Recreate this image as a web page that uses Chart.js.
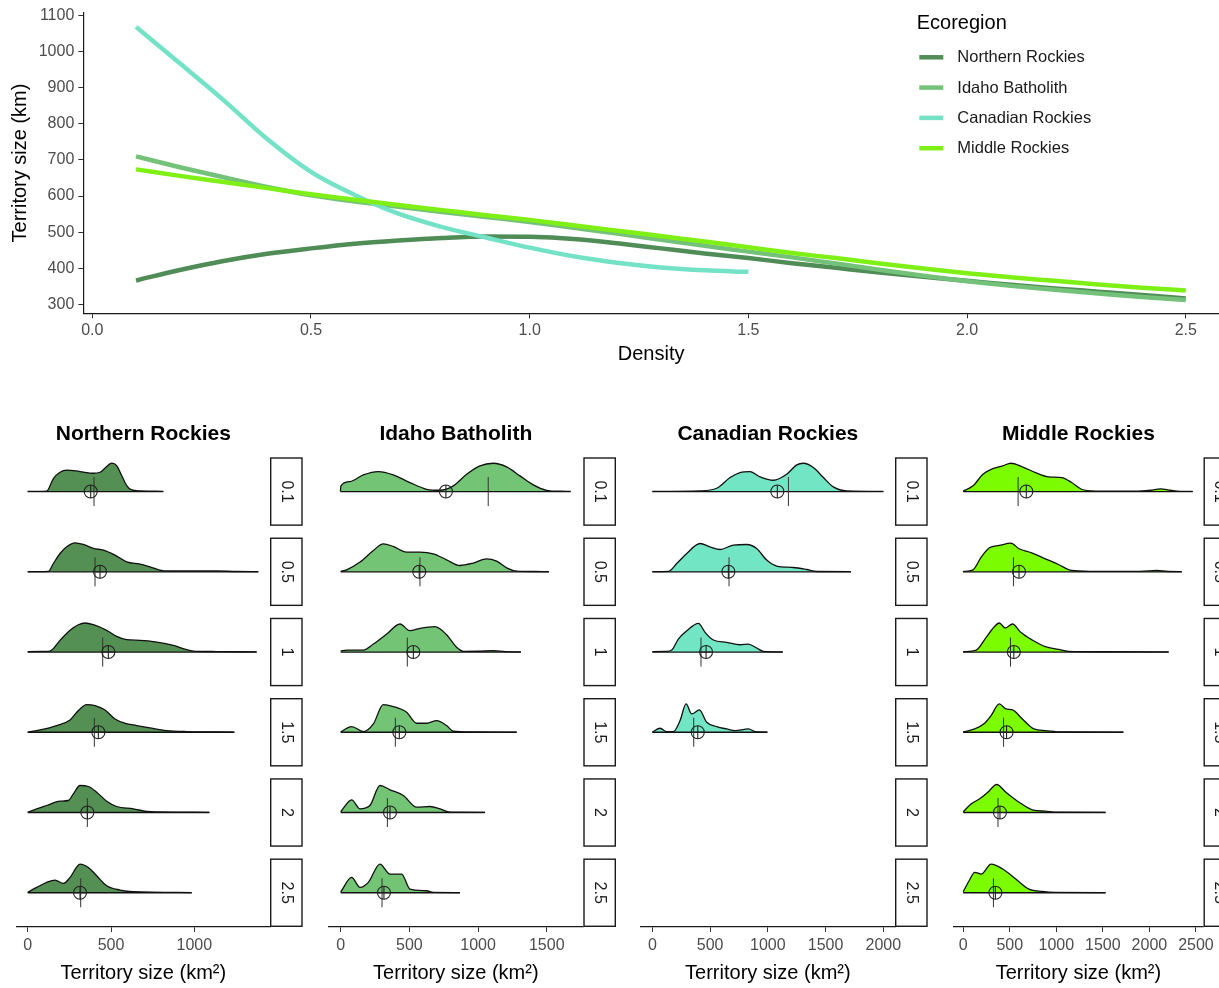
<!DOCTYPE html>
<html><head><meta charset="utf-8">
<script src="https://cdn.jsdelivr.net/npm/chart.js@4.4.1/dist/chart.umd.min.js"></script>
<style>
html,body{margin:0;padding:0;background:#fff;overflow:hidden;width:1219px;height:988px}
canvas{position:absolute}
</style></head><body>
<canvas id="topChart" style="left:0;top:0;width:1219px;height:370px" width="1219" height="370"></canvas>
<canvas id="p0" style="left:0;top:410px;width:312px;height:578px" width="312" height="578"></canvas>
<canvas id="p1" style="left:312px;top:410px;width:312px;height:578px" width="312" height="578"></canvas>
<canvas id="p2" style="left:624px;top:410px;width:312px;height:578px" width="312" height="578"></canvas>
<canvas id="p3" style="left:936px;top:410px;width:283px;height:578px" width="283" height="578"></canvas>
<script>
// ---------------- DATA ----------------
const ecoregions = ['Northern Rockies', 'Idaho Batholith', 'Canadian Rockies', 'Middle Rockies'];
const densityLevels = ['0.1', '0.5', '1', '1.5', '2', '2.5'];

// Top panel: fitted territory size vs density
const densityGrid = [0.1,0.2,0.3,0.4,0.5,0.6,0.7,0.8,0.9,1.0,1.1,1.2,1.3,1.4,1.5,1.6,1.7,1.8,1.9,2.0,2.1,2.2,2.3,2.4,2.5];
const sizeNorthernRockies = [366,395,420,440,455,468,477,484,488,487,481,469,455,441,428,414,401,388,376,365,354,344,335,326,316];
const sizeIdahoBatholith  = [710,680,652,625,602,585,570,556,542,528,512,496,479,462,446,430,413,396,379,364,351,340,330,320,312];
const sizeCanadianRockies = [1069,968,866,758,667,603,551,514,485,457,433,415,402,394,390];
const sizeMiddleRockies   = [674,656,639,622,605,590,575,561,547,534,519,504,489,474,458,442,428,413,399,386,375,365,355,346,338];
const topXTicks = [0.0, 0.5, 1.0, 1.5, 2.0, 2.5];
const topYTicks = [300, 400, 500, 600, 700, 800, 900, 1000, 1100];

// Ridge densities: [territory size km2, scaled density height]
const nr01 = [[0,0.2],[114,0.5],[154,13],[194,19.3],[234,21.5],[314,20],[394,18.3],[434,19.3],[474,25],[504,28.5],[534,26],[564,16],[594,6],[624,1.7],[674,0.7],[814,0.2]];
const nr05 = [[0,0.2],[124,0.5],[154,8.3],[194,18.3],[234,25],[284,29],[334,27.3],[394,23.3],[454,21.7],[524,16.7],[594,10],[674,7.7],[734,5],[814,1],[954,0.8],[1134,0.8],[1250,0.3],[1384,0.2]];
const nr10 = [[0,0.4],[100,0.6],[134,1],[194,11.7],[254,21.7],[304,27.3],[344,29],[394,27.3],[474,21.7],[534,15.7],[594,12.3],[674,11.7],[774,10],[874,6.7],[954,2.3],[994,1],[1134,0.5],[1374,0.2]];
const nr15 = [[0,0.2],[74,2.3],[174,6.7],[254,12.3],[304,21.7],[354,27.7],[404,26.7],[464,22.3],[524,13.3],[584,9],[654,6.7],[734,4.3],[834,1.7],[954,0.7],[1240,0.2]];
const nr20 = [[0,0.3],[54,3.7],[114,7],[194,11.3],[244,12],[274,18.7],[314,27],[364,26],[414,20.3],[474,11.3],[534,6],[634,3.7],[714,1],[794,0.5],[1090,0.2]];
const nr25 = [[0,0.5],[54,5.3],[114,10.3],[164,12.7],[214,9.3],[254,15.3],[314,28.7],[364,25.3],[414,17],[474,7],[554,2.7],[634,1],[984,0.2]];
const meanNR   = [378, 434, 484, 424, 358, 314];
const medianNR = [398, 404, 450, 400, 358, 318];

const ib01 = [[-2,0.3],[2,5.7],[68,10],[165,16.7],[274,20],[383,16.7],[504,9],[626,2.3],[723,1.3],[820,5.7],[917,17.3],[1014,25.7],[1111,28.3],[1208,24.7],[1305,15.7],[1402,6.7],[1499,1.3],[1596,0.3],[1674,0.2]];
const ib05 = [[0,0.3],[44,2],[141,9.7],[238,21.3],[310,28],[383,25.3],[480,19.7],[577,19.7],[674,18],[771,12],[868,6.3],[965,8.7],[1062,13],[1135,10.7],[1208,4],[1281,0.7],[1400,0.3],[1516,0.2]];
const ib10 = [[0,1],[44,2],[165,2],[238,8],[335,18],[432,28],[504,21.3],[577,23.7],[686,25.3],[771,17.3],[844,4.7],[893,0.7],[1000,0.8],[1111,1.3],[1200,0.4],[1312,0.2]];
const ib15 = [[0,0.3],[80,5.7],[165,0.7],[238,8.3],[310,27.7],[383,25.7],[480,20],[553,9],[626,9],[699,11.7],[771,6.7],[820,1],[950,0.3],[1281,0.2]];
const ib20 = [[0,0.7],[80,12.7],[141,3.7],[213,7],[286,27],[359,22.7],[456,17],[553,5.3],[650,6],[723,3.7],[796,0.3],[1050,0.2]];
const ib25 = [[0,0.7],[80,15.3],[141,5.3],[201,10.3],[286,28.7],[359,18.7],[444,18.7],[504,3.7],[626,2],[674,0.3],[868,0.2]];
const meanIB   = [766, 572, 529, 427, 359, 315];
const medianIB = [1074, 577, 485, 398, 340, 301];

const cr01 = [[0,0.2],[413,0.7],[557,3.3],[673,14],[759,19],[846,20],[932,14.7],[1048,11.3],[1163,17.3],[1250,26.7],[1308,28.3],[1394,24],[1481,14],[1567,4.7],[1683,0.7],[2000,0.2]];
const cr05 = [[0,0.2],[139,0.5],[211,8.3],[298,18.3],[413,28.3],[499,25],[586,22.3],[701,26.7],[817,27.3],[903,23.3],[990,11.7],[1077,5.7],[1221,4.3],[1336,2.3],[1423,0.3],[1720,0.2]];
const cr10 = [[0,0.5],[120,0.6],[168,2],[225,13],[298,21.3],[399,28.7],[456,19.7],[528,12],[644,9.7],[759,7.3],[831,8],[904,4],[961,0.7],[1129,0.2]];
const cr15 = [[0,0.2],[67,4],[124,0.7],[182,0.7],[240,11.7],[292,28.3],[341,18.3],[407,22.3],[471,10],[557,5.7],[644,3.3],[716,1.7],[831,3.3],[903,0.3],[996,0.2]];
const meanCR   = [1082, 658, 465, 393];
const medianCR = [1178, 664, 421, 358];

const mr01 = [[0,0.5],[106,5.7],[212,17.3],[318,23],[424,25.7],[512,28.3],[636,24.7],[777,19],[918,14.7],[1059,14],[1165,9],[1271,2.3],[1377,0.7],[1600,0.3],[1850,0.3],[2013,1.3],[2119,2.7],[2225,1.3],[2330,0.2],[2465,0.2]];
const mr05 = [[0,0.3],[106,2],[194,14.7],[282,24],[388,26.3],[512,28.7],[600,23],[742,18.7],[883,13],[1024,7.3],[1165,1.3],[1377,0.5],[1900,0.4],[2083,1.3],[2200,0.3],[2348,0.2]];
const mr10 = [[0,0.3],[141,2],[247,14.7],[335,25.3],[388,29],[452,24],[530,28],[618,19.7],[742,12],[883,5.3],[1024,2.7],[1130,0.7],[1500,0.3],[2207,0.2]];
const mr15 = [[0,0.3],[124,3.3],[230,9],[300,16.7],[388,28.3],[459,23.3],[530,22.3],[636,13.3],[759,3.3],[883,1.7],[1059,0.3],[1720,0.2]];
const mr20 = [[0,0.7],[88,8.7],[177,13.7],[265,20.3],[360,28],[459,20.3],[600,10.3],[742,2.7],[883,1.3],[1024,0.3],[1529,0.2]];
const mr25 = [[0,1],[64,12],[124,20.3],[194,18.7],[300,28.7],[424,23.7],[565,13.7],[706,3.7],[847,1.3],[989,0.3],[1529,0.2]];
const meanMR   = [678, 600, 544, 466, 395, 346];
const medianMR = [590, 540, 508, 434, 374, 325];

const ticksNR = [0, 500, 1000];
const ticksIB = [0, 500, 1000, 1500];
const ticksCR = [0, 500, 1000, 1500, 2000];
const ticksMR = [0, 500, 1000, 1500, 2000, 2500];

// ---------------- STYLE / LAYOUT ----------------
const FONT = '"Liberation Sans", Arial, Helvetica, sans-serif';
Chart.defaults.font.family = FONT;
const lineColors = ['#4f8c56', '#74c279', '#74e2c6', '#7ef015'];
const fillColors = ['#548f54', '#74c476', '#72e6c4', '#7cfc00'];

const panels = [
  {ridges:[nr01,nr05,nr10,nr15,nr20,nr25], mean:meanNR, median:medianNR, ticks:ticksNR, min:-66, max:1454, padL:16.7, padR:42},
  {ridges:[ib01,ib05,ib10,ib15,ib20,ib25], mean:meanIB, median:medianIB, ticks:ticksIB, min:-90, max:1766, padL:16.3, padR:40.7},
  {ridges:[cr01,cr05,cr10,cr15],           mean:meanCR, median:medianCR, ticks:ticksCR, min:-101, max:2101, padL:16.7, padR:41},
  {ridges:[mr01,mr05,mr10,mr15,mr20,mr25], mean:meanMR, median:medianMR, ticks:ticksMR, min:-106, max:2581, padL:17.3, padR:12}
];
const ROW_PX = 80.2;      // pixels per facet row
const HALF = 0.427;       // half panel height in row units
const STRIP_W = 32.7;

// ---------------- TOP CHART ----------------
const legendPlugin = {
  id: 'ecoLegend',
  afterDraw(chart) {
    const ctx = chart.ctx;
    ctx.save();
    ctx.fillStyle = '#000';
    ctx.font = '20px ' + FONT;
    ctx.textAlign = 'left'; ctx.textBaseline = 'middle';
    ctx.fillText('Ecoregion', 916.7, 23);
    chart.data.datasets.forEach((ds, i) => {
      const y = 57.3 + i * 30.3;
      ctx.strokeStyle = ds.borderColor; ctx.lineWidth = 4.5; ctx.lineCap = 'butt';
      ctx.beginPath(); ctx.moveTo(919.3, y); ctx.lineTo(943.3, y); ctx.stroke();
      ctx.fillStyle = '#1a1a1a'; ctx.font = '16.5px ' + FONT;
      ctx.fillText(ds.label, 957.3, y + 0.5);
    });
    ctx.restore();
  }
};

const topSeries = [sizeNorthernRockies, sizeIdahoBatholith, sizeCanadianRockies, sizeMiddleRockies];
new Chart(document.getElementById('topChart'), {
  type: 'line',
  data: {
    datasets: topSeries.map((s, i) => ({
      label: ecoregions[i],
      data: s.map((v, j) => ({x: densityGrid[j], y: v})),
      borderColor: lineColors[i],
      borderWidth: 4.5,
      pointRadius: 0,
      fill: false,
      cubicInterpolationMode: 'monotone',
      order: 4 - i
    }))
  },
  options: {
    responsive: false, animation: false, devicePixelRatio: 1, events: [],
    layout: {padding: {top: 12.8, left: 0, right: 0, bottom: 0}},
    plugins: {legend: {display: false}, tooltip: {enabled: false}},
    scales: {
      x: {
        type: 'linear', min: -0.0206, max: 2.576,
        afterBuildTicks: s => { s.ticks = topXTicks.map(v => ({value: v})); },
        afterFit: s => { s.height = 56.7; s.paddingLeft = 0; s.paddingRight = 0; },
        ticks: {color: '#4d4d4d', font: {size: 16}, padding: 3, callback: v => Number(v).toFixed(1), maxRotation: 0, autoSkip: false},
        grid: {drawOnChartArea: false, drawTicks: true, tickLength: 5, color: '#333'},
        border: {display: true, color: '#1a1a1a', width: 1.2},
        title: {display: true, text: 'Density', color: '#000', font: {size: 20}, padding: {top: 0, bottom: 4}}
      },
      y: {
        type: 'linear', min: 275, max: 1108,
        afterBuildTicks: s => { s.ticks = topYTicks.map(v => ({value: v})); },
        afterFit: s => { s.width = 83.3; s.paddingTop = 0; s.paddingBottom = 0; },
        ticks: {color: '#4d4d4d', font: {size: 16}, padding: 4, autoSkip: false, callback: v => String(v)},
        grid: {drawOnChartArea: false, drawTicks: true, tickLength: 5, color: '#333'},
        border: {display: true, color: '#1a1a1a', width: 1.2},
        title: {display: true, text: 'Territory size (km)', color: '#000', font: {size: 20}, padding: {top: 8, bottom: 0}}
      }
    }
  },
  plugins: [legendPlugin]
});

// ---------------- BOTTOM RIDGE PANELS ----------------
const stripPlugin = {
  id: 'strips',
  afterDraw(chart) {
    const {ctx, chartArea, scales} = chart;
    const y = scales.y;
    ctx.save();
    densityLevels.forEach((lab, r) => {
      const k = 5 - r;
      const top = y.getPixelForValue(k + HALF), bot = y.getPixelForValue(k - HALF);
      const x = chartArea.right;
      ctx.fillStyle = '#fff';
      ctx.fillRect(x, top, STRIP_W, bot - top);
      ctx.strokeStyle = '#1a1a1a'; ctx.lineWidth = 1.4;
      ctx.strokeRect(x + 0.7, top + 0.7, STRIP_W - 1.4, bot - top - 1.4);
      ctx.save();
      ctx.translate(x + STRIP_W / 2, (top + bot) / 2);
      ctx.rotate(Math.PI / 2);
      ctx.fillStyle = '#1a1a1a'; ctx.font = '16px ' + FONT;
      ctx.textAlign = 'center'; ctx.textBaseline = 'middle';
      ctx.fillText(lab, 0, 0);
      ctx.restore();
    });
    ctx.restore();
  }
};

panels.forEach((p, pi) => {
  const datasets = [];
  p.ridges.forEach((ridge, r) => {
    const k = 5 - r;
    datasets.push({
      type: 'line',
      data: ridge.map(([x, h]) => ({x, y: k + h / ROW_PX})),
      borderColor: '#111', borderWidth: 1.3, pointRadius: 0,
      backgroundColor: fillColors[pi],
      fill: {value: k},
      cubicInterpolationMode: 'monotone',
      order: 5
    });
    datasets.push({
      type: 'line',
      data: [{x: ridge[0][0], y: k}, {x: ridge[ridge.length - 1][0], y: k}],
      borderColor: '#111', borderWidth: 1.3, pointRadius: 0, fill: false,
      order: 4
    });
  });
  const rowsWithData = p.ridges.map((_, r) => 5 - r);
  datasets.push({
    type: 'scatter',
    data: p.median.map((v, r) => ({x: v, y: rowsWithData[r]})),
    pointStyle: 'line', rotation: 90, pointRadius: 14.5,
    borderColor: '#333', borderWidth: 1, backgroundColor: 'rgba(0,0,0,0)',
    order: 2
  });
  datasets.push({
    type: 'scatter',
    data: p.mean.map((v, r) => ({x: v, y: rowsWithData[r]})),
    pointStyle: 'circle', pointRadius: 6.5,
    borderColor: '#222', borderWidth: 1.1, backgroundColor: 'rgba(0,0,0,0)',
    order: 1
  });
  datasets.push({
    type: 'scatter',
    data: p.mean.map((v, r) => ({x: v, y: rowsWithData[r]})),
    pointStyle: 'cross', pointRadius: 6.5,
    borderColor: '#222', borderWidth: 1.1,
    order: 0
  });

  new Chart(document.getElementById('p' + pi), {
    type: 'line',
    data: {datasets},
    options: {
      responsive: false, animation: false, devicePixelRatio: 1, events: [],
      layout: {padding: {top: 0, bottom: 0, left: p.padL, right: p.padR}},
      plugins: {
        legend: {display: false}, tooltip: {enabled: false},
        title: {display: true, text: ecoregions[pi], fullSize: false, color: '#000',
                font: {size: 21, weight: 'bold'}, padding: {top: 11.4, bottom: 10.7}}
      },
      scales: {
        x: {
          type: 'linear', min: p.min, max: p.max,
          afterBuildTicks: s => { s.ticks = p.ticks.map(v => ({value: v})); },
          afterFit: s => { s.height = 61; s.paddingLeft = 0; s.paddingRight = 0; },
          ticks: {color: '#4d4d4d', font: {size: 16}, padding: 4, maxRotation: 0, autoSkip: false, callback: v => String(v)},
          grid: {drawOnChartArea: false, drawTicks: true, tickLength: 5, color: '#333'},
          border: {display: true, color: '#1a1a1a', width: 1.3},
          title: {display: true, text: 'Territory size (km²)', color: '#000', font: {size: 20}, padding: {top: 0, bottom: 3}}
        },
        y: {type: 'linear', min: -HALF, max: 5 + HALF, display: false}
      }
    },
    plugins: [stripPlugin]
  });
});
</script>
</body></html>
